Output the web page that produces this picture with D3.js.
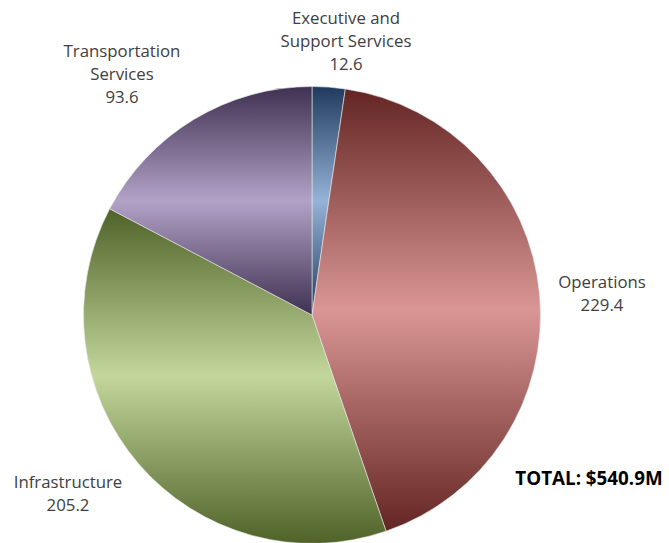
<!DOCTYPE html>
<html><head><meta charset="utf-8">
<script src="https://cdn.jsdelivr.net/npm/d3@7"></script>
<style>body{margin:0;background:#fff}svg{display:block}</style>
</head><body>
<script>
const categories = ["Executive and Support Services", "Operations", "Infrastructure", "Transportation Services"];
const values = [12.6, 229.4, 205.2, 93.6];
const labelLines = [["Executive and", "Support Services"], ["Operations"], ["Infrastructure"], ["Transportation", "Services"]];
const darkColors = ["#1f3a5c", "#632523", "#4f6228", "#3f3151"];
const lightColors = ["#95b3d7", "#d99694", "#c3d69b", "#b2a2c7"];
const totalLabel = "TOTAL: $540.9M";

const W = 669, H = 543;
const cx = 312, cy = 315, R = 228.5;
const svg = d3.select("body").append("svg").attr("width", W).attr("height", H);
const defs = svg.append("defs");
categories.forEach((c, i) => {
  const g = defs.append("linearGradient").attr("id", "g" + i)
    .attr("x1", 0).attr("y1", 0).attr("x2", 0).attr("y2", 1);
  g.append("stop").attr("offset", "0%").attr("stop-color", darkColors[i]);
  g.append("stop").attr("offset", "50%").attr("stop-color", lightColors[i]);
  g.append("stop").attr("offset", "100%").attr("stop-color", darkColors[i]);
});
const data = categories.map((c, i) => ({c, v: values[i], i}));
const pie = d3.pie().value(d => d.v).sort(null);
const arc = d3.arc().innerRadius(0).outerRadius(R);
const g = svg.append("g").attr("transform", `translate(${cx},${cy})`);
g.selectAll("path").data(pie(data)).join("path")
  .attr("d", arc)
  .attr("fill", d => `url(#g${d.data.i})`)
  .attr("stroke", "#e8e8e8").attr("stroke-width", 0.6);

const labelPos = [[346, 24], [602, 288], [68, 488], [122, 57]];
const font = "Open Sans, sans-serif";
data.forEach((d, i) => {
  const lines = labelLines[i].concat([String(d.v)]);
  const t = svg.append("text").attr("text-anchor", "middle")
    .attr("font-family", font).attr("font-size", 16.8).attr("fill", "#404040");
  lines.forEach((l, k) => {
    t.append("tspan").attr("x", labelPos[i][0]).attr("y", labelPos[i][1] + k * 23).text(l);
  });
});
svg.append("text").attr("x", 589).attr("y", 485).attr("text-anchor", "middle")
  .attr("font-family", font).attr("font-size", 18.8).attr("font-weight", "bold")
  .attr("fill", "#000").text(totalLabel);
</script>
</body></html>
